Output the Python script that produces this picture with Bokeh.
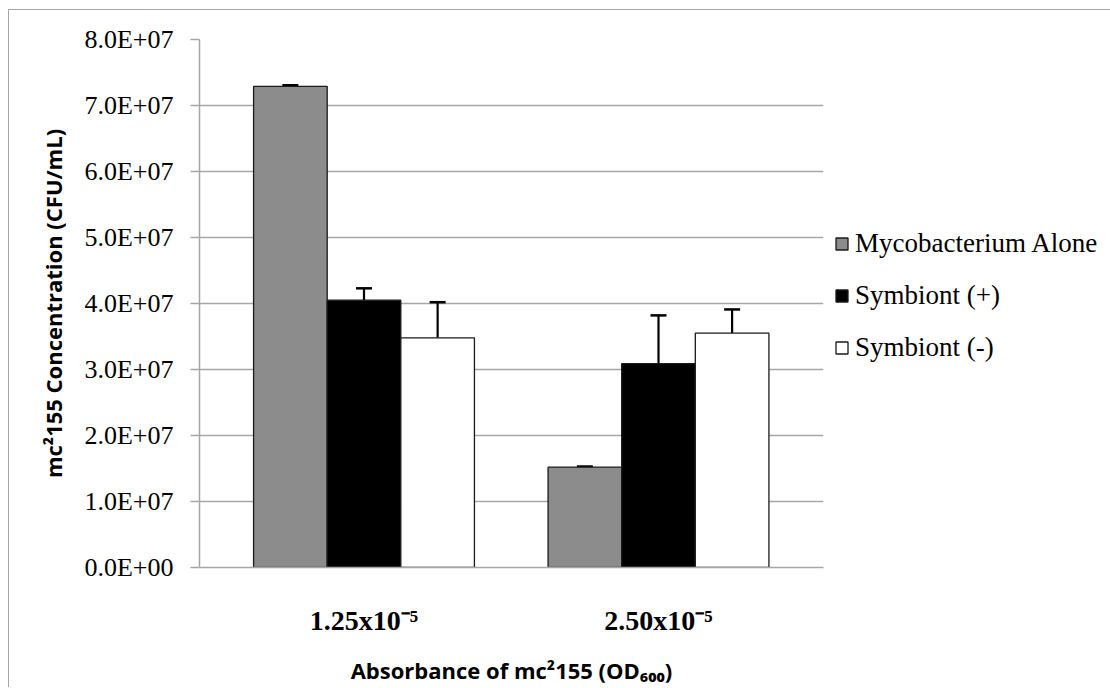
from bokeh.plotting import figure
from bokeh.models import ColumnDataSource, Range1d, FixedTicker, Whisker, TeeHead, Legend, LegendItem
from bokeh.transform import dodge
from bokeh.embed import file_html
from bokeh.resources import INLINE

# ---- data ----
categories = ["1.25x10\u207b\u2075", "2.50x10\u207b\u2075"]
cat_pos = [1, 2]
series_names = ["Mycobacterium Alone", "Symbiont (+)", "Symbiont (-)"]
myco = [7.29e7, 1.52e7]
myco_err = [0.015e7, 0.01e7]
sym_plus = [4.05e7, 3.09e7]
sym_plus_err = [0.18e7, 0.73e7]
sym_minus = [3.48e7, 3.55e7]
sym_minus_err = [0.54e7, 0.36e7]
y_ticks = [0, 1e7, 2e7, 3e7, 4e7, 5e7, 6e7, 7e7, 8e7]
y_tick_labels = ["0.0E+00", "1.0E+07", "2.0E+07", "3.0E+07", "4.0E+07",
                 "5.0E+07", "6.0E+07", "7.0E+07", "8.0E+07"]

SERIF = "Liberation Serif"
SANS = "Open Sans"

p = figure(frame_width=624, frame_height=528, output_backend="svg", toolbar_location=None,
           x_range=Range1d(0.4414, 2.5603), y_range=Range1d(0, 8e7),
           min_border_left=190, min_border_right=270, min_border_top=29,
           min_border_bottom=120)
p.styles = {"border-top": "1px solid #a6a6a6", "border-left": "1px solid #a6a6a6",
            "margin-left": "8px", "margin-top": "9px"}
p.outline_line_color = None
p.background_fill_color = "white"

fills = ["#8c8c8c", "#000000", "#ffffff"]
vals = [myco, sym_plus, sym_minus]
errs = [myco_err, sym_plus_err, sym_minus_err]
offsets = [-0.25, 0.0, 0.25]

renderers = []
for name, v, e, off, col in zip(series_names, vals, errs, offsets, fills):
    src = ColumnDataSource(dict(x=cat_pos, val=v, top=[a + b for a, b in zip(v, e)]))
    r = p.vbar(x=dodge("x", off, range=p.x_range), top="val", bottom=0, width=0.25,
               source=src, fill_color=col, line_color="#1a1a1a", line_width=1.3)
    renderers.append(r)
    w = Whisker(source=src, base=dodge("x", off, range=p.x_range), lower="val", upper="top",
                dimension="height", line_color="black", line_width=2.2,
                upper_head=TeeHead(size=16, line_color="black", line_width=2.5),
                lower_head=None)
    p.add_layout(w)

# y axis
p.yaxis.ticker = FixedTicker(ticks=y_ticks)
p.yaxis.major_label_overrides = {t: l for t, l in zip(y_ticks, y_tick_labels)}
p.yaxis.major_label_text_font = SERIF
p.yaxis.major_label_text_font_size = "26px"
p.yaxis.major_label_text_color = "black"
p.yaxis.major_tick_out = 9
p.yaxis.major_tick_in = 0
p.yaxis.minor_tick_line_color = None
p.yaxis.major_tick_line_color = "#a6a6a6"
p.yaxis.major_tick_line_width = 1.5
p.yaxis.major_label_standoff = 17
p.yaxis.axis_line_color = "#a6a6a6"
p.yaxis.axis_line_width = 1.5
p.yaxis.axis_label = "mc\u00b2155 Concentration (CFU/mL)"
p.yaxis.axis_label_text_font = SANS
p.yaxis.axis_label_text_font_style = "bold"
p.yaxis.axis_label_text_font_size = "22px"
p.yaxis.axis_label_text_color = "black"
p.yaxis.axis_label_standoff = 13

# x axis
p.xaxis.ticker = FixedTicker(ticks=cat_pos)
p.xaxis.major_label_overrides = {t: l for t, l in zip(cat_pos, categories)}
p.xaxis.major_label_text_font = SERIF
p.xaxis.major_label_text_font_style = "bold"
p.xaxis.major_label_text_font_size = "28px"
p.xaxis.major_label_text_color = "black"
p.xaxis.major_tick_line_color = None
p.xaxis.minor_tick_line_color = None
p.xaxis.major_tick_out = 0
p.xaxis.major_tick_in = 0
p.xaxis.major_label_standoff = 37
p.xaxis.axis_line_color = "#a6a6a6"
p.xaxis.axis_line_width = 1.5
p.xaxis.axis_label = "Absorbance of mc\u00b2155 (OD\u2086\u2080\u2080)"
p.xaxis.axis_label_text_font = SANS
p.xaxis.axis_label_text_font_style = "bold"
p.xaxis.axis_label_text_font_size = "22px"
p.xaxis.axis_label_text_color = "black"
p.xaxis.axis_label_standoff = 16

p.xgrid.grid_line_color = None
p.ygrid.grid_line_color = "#a6a6a6"
p.ygrid.grid_line_width = 1.5

legend = Legend(items=[LegendItem(label=n, renderers=[r]) for n, r in zip(series_names, renderers)],
                location=(11, 204), orientation="vertical")
legend.label_text_font = SERIF
legend.label_text_font_size = "27px"
legend.label_text_color = "black"
legend.glyph_width = 15
legend.glyph_height = 15
legend.label_standoff = 6
legend.label_height = 27
legend.spacing = 21
legend.padding = 0
legend.margin = 0
legend.border_line_color = None
legend.background_fill_alpha = 0
p.add_layout(legend, "right")

open("out.html", "w").write(file_html(p, INLINE))
